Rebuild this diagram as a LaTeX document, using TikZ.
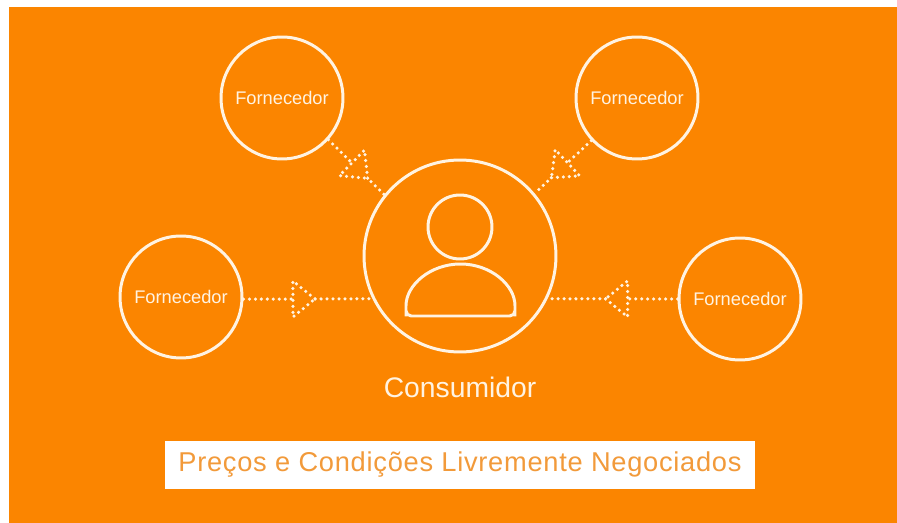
\documentclass[tikz,border=0pt]{standalone}
\usepackage{fontspec}
\setmainfont{Liberation Sans}
\usetikzlibrary{shapes.geometric}
\definecolor{bgorange}{HTML}{FB8500}
\definecolor{softwhite}{HTML}{FFF3E2}
\definecolor{labelorange}{HTML}{F29A3A}
\tikzset{
	supplier/.style={circle, draw=softwhite, line width=1.7pt, minimum size=2.44cm, inner sep=0pt, text=softwhite, font=\fontsize{10.4}{12}\selectfont},
	consumer/.style={circle, draw=softwhite, line width=1.7pt, minimum size=3.84cm, inner sep=0pt},
	dotlink/.style={draw=softwhite, line width=2pt, line cap=round, dash pattern=on 0pt off 3.4pt},
	dottip/.style={isosceles triangle, isosceles triangle apex angle=100, isosceles triangle stretches, minimum width=0.72cm, minimum height=0.44cm, inner sep=0pt, sloped, allow upside down, fill=bgorange, draw=softwhite, line width=2pt, line cap=round, dash pattern=on 0pt off 3.4pt}
}
\begin{document}
\begin{tikzpicture}[x=0.02cm, y=-0.02cm]
	\useasboundingbox (0,0) rectangle (897,523);
	\fill[white] (0,0) rectangle (897,523);
	\fill[bgorange] (9,7) rectangle (897,523);
	\node[supplier] (sup1) at (282,98) {Fornecedor};
	\node[supplier] (sup2) at (637,98) {Fornecedor};
	\node[supplier] (sup3) at (181,297) {Fornecedor};
	\node[supplier] (sup4) at (740,299) {Fornecedor};
	\node[consumer] (cons) at (460,256) {};
	\node[circle, draw=softwhite, line width=1.7pt, minimum size=1.28cm, inner sep=0pt] (head) at (460,227) {};
	\draw[softwhite, line width=1.7pt, rounded corners=3pt] (406,316) -- (406,311) arc (180:360:54.5 and 47) -- (515,316) -- cycle;
	\draw[dotlink] (sup3.-2) -- node[dottip, pos=0.45] (tip3) {} (cons.206);
	\draw[dotlink] (sup4.180) -- node[dottip, pos=0.45] (tip4) {} (cons.-26);
	\draw[dotlink] (sup1.-42) -- node[dottip, pos=0.53] (tip1) {} (cons.141);
	\draw[dotlink] (sup2.-137) -- node[dottip, pos=0.53] (tip2) {} (cons.40);
	\node[text=softwhite, font=\fontsize{16.1}{19}\selectfont] (conslabel) at (460,387) {Consumidor};
	\node[fill=white, minimum width=11.8cm, minimum height=0.96cm, inner sep=0pt, text=labelorange, font=\addfontfeatures{LetterSpace=2.7}\fontsize{15.5}{18}\selectfont] (banner) at (460,465) {Preços e Condições Livremente Negociados};
\end{tikzpicture}
\end{document}
